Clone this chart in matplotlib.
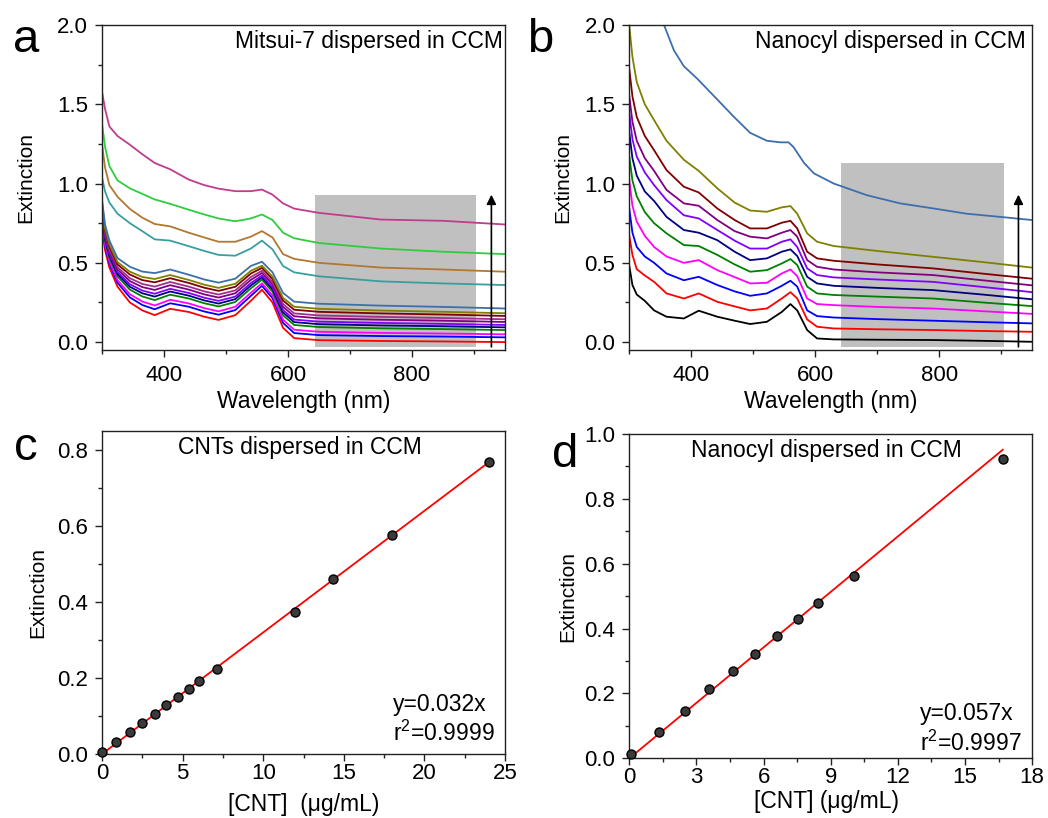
import numpy as np
import matplotlib
matplotlib.use("Agg")
import matplotlib.pyplot as plt
from matplotlib.ticker import MultipleLocator, FormatStrFormatter

plt.rcParams['font.family'] = ['Liberation Sans', 'DejaVu Sans']

# ---- panel a: Mitsui-7 spectra ----
wl_a = [300, 305, 312, 325, 345, 365, 385, 410, 440, 465, 488, 515, 540, 558,
        575, 592, 610, 650, 750, 850, 950]
spec_a = [
    [0.72, 0.58, 0.47, 0.35, 0.25, 0.20, 0.17, 0.21, 0.19, 0.16, 0.14, 0.17, 0.26, 0.33, 0.25, 0.09, 0.025, 0.012, 0.007, 0.004, 0.0],
    [0.745, 0.602, 0.494, 0.375, 0.282, 0.234, 0.207, 0.245, 0.223, 0.193, 0.173, 0.202, 0.291, 0.355, 0.277, 0.121, 0.057, 0.044, 0.038, 0.035, 0.030],
    [0.761, 0.617, 0.509, 0.391, 0.302, 0.256, 0.231, 0.267, 0.244, 0.214, 0.194, 0.223, 0.311, 0.371, 0.294, 0.141, 0.078, 0.065, 0.058, 0.054, 0.049],
    [0.785, 0.638, 0.531, 0.415, 0.331, 0.288, 0.265, 0.299, 0.275, 0.245, 0.225, 0.253, 0.339, 0.394, 0.318, 0.169, 0.108, 0.095, 0.087, 0.082, 0.076],
    [0.799, 0.650, 0.545, 0.429, 0.349, 0.308, 0.287, 0.319, 0.293, 0.263, 0.243, 0.271, 0.357, 0.408, 0.334, 0.187, 0.126, 0.113, 0.105, 0.100, 0.093],
    [0.812, 0.662, 0.557, 0.442, 0.365, 0.325, 0.305, 0.336, 0.310, 0.280, 0.260, 0.287, 0.372, 0.420, 0.347, 0.202, 0.142, 0.129, 0.121, 0.115, 0.108],
    [0.828, 0.676, 0.572, 0.458, 0.385, 0.347, 0.329, 0.359, 0.331, 0.301, 0.281, 0.308, 0.392, 0.436, 0.364, 0.222, 0.163, 0.150, 0.141, 0.135, 0.127],
    [0.842, 0.689, 0.586, 0.472, 0.403, 0.367, 0.350, 0.379, 0.350, 0.320, 0.300, 0.326, 0.410, 0.450, 0.379, 0.240, 0.181, 0.168, 0.159, 0.152, 0.144],
    [0.860, 0.705, 0.603, 0.490, 0.426, 0.391, 0.377, 0.403, 0.373, 0.343, 0.323, 0.349, 0.432, 0.468, 0.398, 0.262, 0.204, 0.191, 0.181, 0.174, 0.165],
    [0.875, 0.718, 0.616, 0.505, 0.444, 0.411, 0.398, 0.423, 0.392, 0.362, 0.342, 0.368, 0.449, 0.482, 0.413, 0.279, 0.223, 0.210, 0.199, 0.191, 0.182],
    [0.90, 0.74, 0.64, 0.53, 0.475, 0.445, 0.435, 0.458, 0.425, 0.395, 0.375, 0.40, 0.48, 0.507, 0.44, 0.31, 0.255, 0.242, 0.23, 0.222, 0.212],
    [1.04, 0.95, 0.88, 0.81, 0.75, 0.70, 0.648, 0.64, 0.605, 0.575, 0.55, 0.545, 0.59, 0.64, 0.585, 0.48, 0.44, 0.415, 0.383, 0.37, 0.36],
    [1.25, 1.10, 0.99, 0.917, 0.84, 0.785, 0.745, 0.73, 0.69, 0.66, 0.633, 0.633, 0.665, 0.70, 0.66, 0.555, 0.525, 0.50, 0.47, 0.458, 0.444],
    [1.38, 1.23, 1.11, 1.02, 0.97, 0.935, 0.90, 0.872, 0.835, 0.805, 0.78, 0.762, 0.78, 0.805, 0.77, 0.69, 0.655, 0.625, 0.59, 0.57, 0.555],
    [1.58, 1.47, 1.36, 1.30, 1.245, 1.185, 1.13, 1.09, 1.025, 0.99, 0.968, 0.952, 0.952, 0.962, 0.93, 0.875, 0.842, 0.815, 0.773, 0.765, 0.742],
]
colors_a = ['#ff0000', '#0000ff', '#ff00ff', '#008000', '#000080', '#8000ff',
            '#800080', '#a0308a', '#800000', '#808000', '#3d6fad',
            '#3a9e9e', '#b07830', '#30cc40', '#c03c8c']

# ---- panel b: Nanocyl spectra ----
wl_b = [300, 305, 312, 325, 340, 360, 388, 412, 442, 470, 495, 522, 546, 560,
        571, 587, 603, 630, 700, 790, 870, 950]
spec_b = [
    [0.48, 0.36, 0.30, 0.26, 0.20, 0.16, 0.149, 0.198, 0.16, 0.135, 0.114, 0.128, 0.19, 0.24, 0.20, 0.076, 0.023, 0.017, 0.015, 0.013, 0.008, 0.002],
    [0.67, 0.55, 0.46, 0.42, 0.38, 0.307, 0.275, 0.307, 0.254, 0.225, 0.20, 0.212, 0.275, 0.315, 0.275, 0.143, 0.097, 0.086, 0.081, 0.076, 0.070, 0.065],
    [0.84, 0.69, 0.60, 0.54, 0.50, 0.433, 0.39, 0.412, 0.36, 0.32, 0.292, 0.307, 0.355, 0.387, 0.35, 0.20, 0.164, 0.155, 0.145, 0.135, 0.126, 0.118],
    [1.02, 0.86, 0.76, 0.67, 0.60, 0.54, 0.50, 0.517, 0.454, 0.41, 0.37, 0.374, 0.433, 0.458, 0.416, 0.275, 0.24, 0.233, 0.222, 0.212, 0.195, 0.178],
    [1.17, 1.02, 0.92, 0.82, 0.75, 0.686, 0.612, 0.606, 0.55, 0.49, 0.444, 0.454, 0.496, 0.524, 0.486, 0.35, 0.307, 0.297, 0.287, 0.275, 0.25, 0.227],
    [1.32, 1.16, 1.05, 0.95, 0.89, 0.79, 0.707, 0.69, 0.643, 0.57, 0.517, 0.528, 0.57, 0.585, 0.543, 0.412, 0.37, 0.355, 0.342, 0.328, 0.30, 0.27],
    [1.44, 1.28, 1.17, 1.07, 0.99, 0.896, 0.80, 0.78, 0.707, 0.64, 0.59, 0.59, 0.633, 0.648, 0.60, 0.465, 0.423, 0.408, 0.395, 0.38, 0.348, 0.315],
    [1.55, 1.39, 1.27, 1.16, 1.08, 0.96, 0.875, 0.86, 0.77, 0.70, 0.665, 0.654, 0.69, 0.707, 0.665, 0.517, 0.475, 0.458, 0.44, 0.423, 0.39, 0.358],
    [1.72, 1.55, 1.42, 1.30, 1.21, 1.085, 0.98, 0.944, 0.843, 0.77, 0.717, 0.717, 0.753, 0.765, 0.717, 0.57, 0.528, 0.513, 0.49, 0.465, 0.432, 0.40],
    [1.99, 1.80, 1.64, 1.50, 1.40, 1.27, 1.15, 1.08, 0.97, 0.88, 0.83, 0.822, 0.85, 0.858, 0.81, 0.686, 0.633, 0.606, 0.575, 0.538, 0.505, 0.47],
]
colors_b = ['#000000', '#ff0000', '#0000ff', '#ff00ff', '#008000', '#000080',
            '#8000ff', '#800080', '#800000', '#808000']
# most concentrated Nanocyl spectrum runs off the top of the axis
wl_b_top = [350, 356, 372, 388, 410, 442, 469, 495, 522, 544, 557, 565, 582,
            598, 630, 683, 737, 791, 844, 898, 950]
spec_b_top = [2.02, 2.0, 1.84, 1.74, 1.66, 1.53, 1.42, 1.32, 1.27, 1.26, 1.26,
              1.23, 1.13, 1.064, 1.0, 0.927, 0.875, 0.843, 0.81, 0.79, 0.77]
color_b_top = '#3d6fad'

# ---- panel c / d: calibration points ----
conc_c = [0, 0.9, 1.75, 2.5, 3.3, 4.0, 4.7, 5.4, 6.0, 7.15, 12.0, 14.35, 18.0, 24.0]
ext_c = [0.005, 0.031, 0.057, 0.082, 0.105, 0.129, 0.149, 0.170, 0.192, 0.223,
         0.374, 0.460, 0.577, 0.768]
slope_c = 0.032

conc_d = [0.09, 1.31, 2.48, 3.58, 4.62, 5.63, 6.62, 7.53, 8.42, 10.02, 16.69]
ext_d = [0.012, 0.081, 0.146, 0.213, 0.270, 0.323, 0.376, 0.430, 0.479, 0.562, 0.924]
slope_d = 0.057

grey_a = (643, 903, -0.03, 0.93)
grey_b = (641, 904, -0.03, 1.13)

TICK_FS = 16
LABEL_FS = 16.5
YLAB_FS = 15
TEXT_FS = 16.5


def style_axis(ax, xpad):
    for sp in ax.spines.values():
        sp.set_linewidth(1.0)
        sp.set_color('#222222')
    ax.tick_params(which='both', direction='out', top=False, right=False,
                   labelsize=TICK_FS, width=1.0, color='#222222')
    ax.tick_params(which='major', length=5)
    ax.tick_params(which='minor', length=3)
    ax.tick_params(axis='y', which='major', pad=5)
    ax.tick_params(axis='x', which='major', pad=xpad)


def spectra_axis(ax, box):
    ax.set_xlim(300, 950)
    ax.set_ylim(-0.05, 2.0)
    ax.xaxis.set_major_locator(MultipleLocator(200))
    ax.xaxis.set_minor_locator(MultipleLocator(100))
    ax.yaxis.set_major_locator(MultipleLocator(0.5))
    ax.yaxis.set_minor_locator(MultipleLocator(0.25))
    ax.yaxis.set_major_formatter(FormatStrFormatter('%.1f'))
    ax.set_xticks([400, 600, 800])
    x0, x1, y0, y1 = box
    ax.fill_between([x0, x1], y0, y1, color='#c0c0c0', lw=0, zorder=0.5)
    ax.annotate('', xy=(928, 0.93), xytext=(928, -0.03),
                arrowprops=dict(arrowstyle='-|>', color='black', lw=1.2,
                                mutation_scale=14, shrinkA=0, shrinkB=0),
                zorder=5)
    ax.set_xlabel('Wavelength (nm)', fontsize=LABEL_FS)
    ax.set_ylabel('Extinction', fontsize=YLAB_FS)
    style_axis(ax, 6)


fig = plt.figure(figsize=(10.48, 8.18), dpi=100)

ax_a = fig.add_axes([0.0973, 0.5721, 0.3846, 0.3973])
ax_b = fig.add_axes([0.6005, 0.5721, 0.3843, 0.3973])
ax_c = fig.add_axes([0.0973, 0.0782, 0.3846, 0.3949])
ax_d = fig.add_axes([0.6005, 0.0730, 0.3843, 0.3965])

# panel a
for ys, col in zip(spec_a, colors_a):
    ax_a.plot(wl_a, ys, color=col, lw=1.3, zorder=2)
spectra_axis(ax_a, grey_a)
ax_a.text(0.995, 0.95, 'Mitsui-7 dispersed in CCM', transform=ax_a.transAxes,
          ha='right', va='center', fontsize=TEXT_FS)
ax_a.xaxis.set_label_coords(0.5, -0.123)
ax_a.yaxis.set_label_coords(-0.166, 0.53)

# panel b
for ys, col in zip(spec_b, colors_b):
    ax_b.plot(wl_b, ys, color=col, lw=1.3, zorder=2)
ax_b.plot(wl_b_top, spec_b_top, color=color_b_top, lw=1.3, zorder=2)
spectra_axis(ax_b, grey_b)
ax_b.text(0.985, 0.95, 'Nanocyl dispersed in CCM', transform=ax_b.transAxes,
          ha='right', va='center', fontsize=TEXT_FS)
ax_b.xaxis.set_label_coords(0.5, -0.123)
ax_b.yaxis.set_label_coords(-0.141, 0.53)


def calib_axis(ax, x, y, slope, xmax, xstep, ymax, title, xlabel, tx, ty, r2):
    xfit = np.array([0, max(x)])
    ax.plot(xfit, slope * xfit, color='red', lw=1.3, zorder=2)
    ax.plot(x, y, 'o', ms=6.5, mfc='#3a3a3a', mec='black', mew=1.0, zorder=3,
            clip_on=False)
    ax.set_xlim(0, xmax)
    ax.set_ylim(0, ymax)
    ax.xaxis.set_major_locator(MultipleLocator(xstep))
    ax.xaxis.set_minor_locator(MultipleLocator(xstep / 2))
    ax.yaxis.set_major_locator(MultipleLocator(0.2))
    ax.yaxis.set_minor_locator(MultipleLocator(0.1))
    ax.yaxis.set_major_formatter(FormatStrFormatter('%.1f'))
    ax.text(tx, 0.95, title, transform=ax.transAxes, ha='center', va='center',
            fontsize=TEXT_FS)
    ax.text(0.722, ty[0], 'y=%.3fx' % slope, transform=ax.transAxes,
            ha='left', va='center', fontsize=TEXT_FS)
    ax.text(0.722, ty[1], r'r$^\mathregular{2}$=' + r2, transform=ax.transAxes,
            ha='left', va='center', fontsize=TEXT_FS)
    ax.set_xlabel(xlabel, fontsize=LABEL_FS)
    ax.set_ylabel('Extinction', fontsize=YLAB_FS)
    style_axis(ax, 1.5)


calib_axis(ax_c, conc_c, ext_c, slope_c, 25, 5, 0.85, 'CNTs dispersed in CCM',
           '[CNT]  (\u03bcg/mL)', 0.491, (0.152, 0.065), '0.9999')
ax_c.xaxis.set_label_coords(0.5, -0.122)
ax_c.yaxis.set_label_coords(-0.136, 0.5)

calib_axis(ax_d, conc_d, ext_d, slope_d, 18, 3, 1.0, 'Nanocyl dispersed in CCM',
           '[CNT] (\u03bcg/mL)', 0.49, (0.139, 0.046), '0.9997')
ax_d.xaxis.set_label_coords(0.49, -0.098)
ax_d.yaxis.set_label_coords(-0.129, 0.5)

# panel letters
for lab, (px, py) in zip('abcd', [(26, 40), (540, 40), (26, 448), (565, 455)]):
    fig.text(px / 1048, 1 - py / 818, lab, fontsize=34, ha='center', va='center')

fig.savefig('out.png', dpi=100)
